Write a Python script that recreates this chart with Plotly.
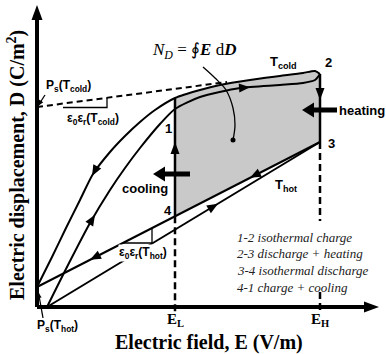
import numpy as np
import plotly.graph_objects as go

# ---------------- data (schematic units: E to the right, D upward) ----------------
E_L = 138
E_H = 283
Ps_cold = 200
Ps_hot = 20

outer_E = [0, 15, 29, 43, 56, 73, 88, 103, 118, 138, 163, 183, 213, 243, 266, 278, 283]
outer_D = [20, 50, 79, 107, 133, 155, 171, 185, 197, 209, 217, 222, 227, 231, 234, 236, 233]
inner_E = [10, 31, 53, 73, 88, 103, 123, 138, 163, 203, 243, 266, 278, 283]
inner_D = [0, 42, 84, 117, 139, 159, 183, 198, 210, 219, 222, 224, 227, 233]
cold_line_E = [0, 190]
cold_line_D = [200, 225]
hot_upper_E = [0, 283]
hot_upper_D = [20, 165]
hot_lower_E = [10, 283]
hot_lower_D = [0, 165]
D2 = 233
D3 = 165

legend_lines = ["1-2 isothermal charge", "2-3 discharge + heating",
                "3-4 isothermal discharge", "4-1 charge + cooling"]

SANS = "Liberation Sans, Arial, sans-serif"
SERIF = "Liberation Serif, Times New Roman, serif"

def hot_up(e):
    return np.interp(e, hot_upper_E, hot_upper_D)

D1 = float(np.interp(E_L, outer_E, outer_D))
D4 = float(hot_up(E_L))

fig = go.Figure()

# ---- grey cycle area ----
ge = [e for e in outer_E if e >= E_L]
gd = [d for e, d in zip(outer_E, outer_D) if e >= E_L]
poly_E = ge + [E_H, E_L, E_L]
poly_D = gd + [D3, D4, D1]
fig.add_trace(go.Scatter(x=poly_E, y=poly_D, fill="toself", fillcolor="#c9c9c9",
                         mode="none", hoverinfo="skip"))

def line(x, y, w=2, dash=None, shape="linear", color="black", smoothing=1.0):
    ld = dict(color=color, width=w, dash=dash, shape=shape)
    if shape == "spline":
        ld["smoothing"] = smoothing
    fig.add_trace(go.Scatter(x=x, y=y, mode="lines", line=ld, hoverinfo="skip"))

# curves
line(outer_E, outer_D, 2, shape="spline", smoothing=0.7)
line(inner_E, inner_D, 2, shape="spline", smoothing=0.7)
line(cold_line_E, cold_line_D, 2, dash="6px,4px")
line(hot_upper_E, hot_upper_D, 2)
line(hot_lower_E, hot_lower_D, 2)
# vertical legs
line([E_L, E_L], [D4, D1], 2.5)
line([E_H, E_H], [D3, D2], 2.5)
# dashed guides
line([E_L, E_L], [D4, -5], 2.5, dash="7px,4px")
line([E_H, E_H], [D3, 86], 2.5, dash="7px,4px")
line([E_H, E_H], [15, -5], 2.5, dash="7px,4px")
# slope triangles
line([26, 70, 70], [199.5, 199.5, 209.3], 1.3)
line([86, 115, 115], [64, 64, 79], 1.3)
# N_D pointer
line([166, 178, 189, 196, 198, 196], [240, 229, 217, 199, 182, 167], 1.3, shape="spline")
fig.add_trace(go.Scatter(x=[196], y=[167], mode="markers",
                         marker=dict(color="black", size=5), hoverinfo="skip"))
# Ps pointers
line([8, 1.5], [212, 202], 1.3)
line([6, 1.5], [-11, 14], 1.3)
# axes
line([0, 0], [0, 288], 4)
line([0, 330], [0, 0], 4)

shapes = []
def tri(xt, yt, ux, uy, L=11, W=9):
    n = np.hypot(ux, uy); ux, uy = ux / n, uy / n
    bx, by = xt - L * ux, yt - L * uy
    px, py = -uy, ux
    path = (f"M {xt},{yt} L {bx + W/2*px},{by + W/2*py} "
            f"L {bx - W/2*px},{by - W/2*py} Z")
    shapes.append(dict(type="path", path=path, xref="x", yref="y",
                       fillcolor="black", line=dict(width=0), layer="above"))

def arrow_on(xs, ys, e, sign, L=11, W=9):
    d = float(np.interp(e, xs, ys))
    slope = (np.interp(e + 2, xs, ys) - np.interp(e - 2, xs, ys)) / 4
    tri(e, d, sign * 1.0, sign * slope, L, W)

arrow_on(outer_E, outer_D, 55, -1)
arrow_on(inner_E, inner_D, 58, +1)
arrow_on(inner_E, inner_D, 213, +1)
arrow_on(hot_upper_E, hot_upper_D, 213, -1)
arrow_on(hot_upper_E, hot_upper_D, 53, -1)
arrow_on(hot_lower_E, hot_lower_D, 181, +1)
tri(E_L, 165, 0, 1, 12, 9)
tri(E_H, 207, 0, -1, 12, 9)
# axis arrowheads
tri(0, 302, 0, 1, 15, 11)
tri(342, 0, 1, 0, 15, 11)
# Ps pointer heads
tri(1, 201, -0.6, -1, 6, 5)
tri(1, 15, -0.2, 1, 6, 5)

# thick heating / cooling arrows
def thick_arrow(x_tail, x_tip, y, shaft=5, head_L=12, head_W=15):
    base = x_tip + head_L
    shapes.append(dict(type="rect", x0=base - 1, x1=x_tail, y0=y - shaft/2, y1=y + shaft/2,
                       xref="x", yref="y", fillcolor="black", line=dict(width=0), layer="above"))
    tri(x_tip, y, -1, 0, head_L, head_W)

thick_arrow(300, 265, 197)
thick_arrow(153, 116, 133)

ann = []
def txt(x, y, s, size=12, family=SANS, xanchor="center", angle=0, color="black", bg=None):
    a = dict(x=x, y=y, text=s, showarrow=False, xref="x", yref="y",
             xanchor=xanchor, yanchor="middle", textangle=angle,
             font=dict(size=size, family=family, color=color))
    if bg:
        a["bgcolor"] = bg
        a["borderpad"] = 0
    ann.append(a)

txt(31, 221, "<b>P<sub>s</sub>(T<sub>cold</sub>)</b>", 12)
txt(56, 188, "<b>ε<sub>0</sub>ε<sub>r</sub>(T<sub>cold</sub>)</b>", 12)
txt(106, 54, "<b>ε<sub>0</sub>ε<sub>r</sub>(T<sub>hot</sub>)</b>", 12, bg="white")
txt(20, -19, "<b>P<sub>s</sub>(T<sub>hot</sub>)</b>", 12)
txt(246, 245, "<b>T<sub>cold</sub></b>", 13)
txt(249, 122, "<b>T<sub>hot</sub></b>", 13)
txt(291, 245, "<b>2</b>", 13)
txt(294, 164, "<b>3</b>", 13)
txt(131, 179, "<b>1</b>", 13)
txt(131, 97, "<b>4</b>", 13)
txt(300, 197, "<b>heating</b>", 13, xanchor="left")
txt(108, 119, "<b>cooling</b>", 13)
txt(157, 256, "<i>N<sub>D</sub></i> = ∮<b><i>E</i></b> d<b><i>D</i></b>", 17, SERIF)
txt(E_L, -13, "<b>E<sub>L</sub></b>", 15, SERIF)
txt(E_H, -13, "<b>E<sub>H</sub></b>", 15, SERIF)
for i, s in enumerate(legend_lines):
    txt(198, 70 - 16.8 * i, "<i>" + s + "</i>", 13, SERIF, xanchor="left", color="#222")
txt(172, -35, "<b>Electric field, E (V/m)</b>", 20, SERIF)
txt(-21, 142, "<b>Electric displacement, D (C/m<sup>2</sup>)</b>", 20, SERIF, angle=-90)

fig.update_layout(
    width=386, height=354, margin=dict(l=0, r=0, t=0, b=0),
    paper_bgcolor="white", plot_bgcolor="white", showlegend=False,
    xaxis=dict(range=[-37, 349], visible=False, fixedrange=True),
    yaxis=dict(range=[-47, 307], visible=False, fixedrange=True),
    shapes=shapes, annotations=ann,
)
fig.write_html("out.html")
